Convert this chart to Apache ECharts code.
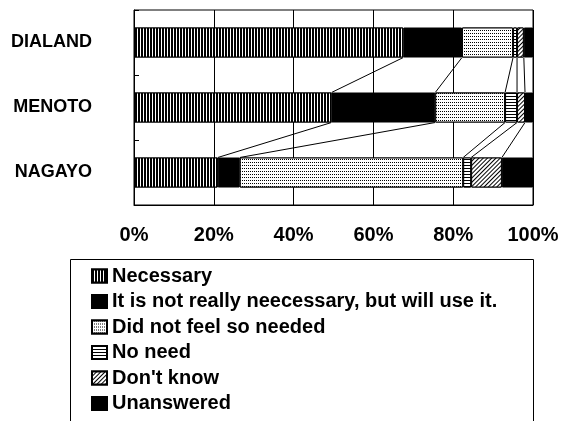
<!DOCTYPE html>
<html><head><meta charset="utf-8">
<script src="https://cdn.jsdelivr.net/npm/echarts@6/dist/echarts.min.js"></script>
<style>html,body{margin:0;padding:0;background:#fff}#c{width:564px;height:421px}</style>
</head><body><div id="c"></div>
<script>
const categories = ['DIALAND', 'MENOTO', 'NAGAYO'];
const seriesNames = ['Necessary', 'It is not really neecessary, but will use it.', 'Did not feel so needed', 'No need', "Don't know", 'Unanswered'];
const necessary  = [67.5, 49.5, 21];
const notReally  = [14.7, 26, 5.5];
const notNeeded  = [12.8, 17.5, 56];
const noNeed     = [1, 3, 2];
const dontKnow   = [1.7, 2, 7.7];
const unanswered = [2.3, 2, 7.8];
const xTicks = [0, 20, 40, 60, 80, 100];

const values = [necessary, notReally, notNeeded, noNeed, dontKnow, unanswered];
const FONT = "'Liberation Sans', Arial, sans-serif";

const decals = [
  {symbol: 'rect', symbolSize: 1, dashArrayX: [2, 1], dashArrayY: [10, 0], color: '#000', backgroundColor: '#fff'},
  null,
  {symbol: 'rect', symbolSize: 1, dashArrayX: [1, 1], dashArrayY: [1, 2], color: '#000', backgroundColor: '#fff'},
  {symbol: 'rect', symbolSize: 1, dashArrayX: [10, 0], dashArrayY: [1, 2], color: '#000', backgroundColor: '#fff'},
  {symbol: 'rect', symbolSize: 1, dashArrayX: [10, 0], dashArrayY: [1, 2], rotation: -Math.PI / 4, color: '#000', backgroundColor: '#fff'},
  null
];

function cumulative(i) {
  const out = [];
  let s = 0;
  for (let k = 0; k < values.length - 1; k++) { s += values[k][i]; out.push(s); }
  return out;
}

const barSeries = seriesNames.map((name, k) => ({
  name: name,
  type: 'bar',
  stack: 'total',
  barWidth: 30,
  data: values[k],
  itemStyle: Object.assign(
    {color: decals[k] ? '#fff' : '#000', borderColor: '#000', borderWidth: 1},
    decals[k] ? {decal: decals[k]} : {}
  ),
  emphasis: {disabled: true}
}));

const connectorSeries = {
  type: 'custom',
  name: 'connectors',
  z: 5,
  silent: true,
  data: [[0, 0], [0, 1]],
  encode: {x: 0, y: 1},
  renderItem: function (params, api) {
    const idx = api.value(1);
    const a = cumulative(idx), b = cumulative(idx + 1);
    const children = [];
    for (let k = 0; k < a.length; k++) {
      const p1 = api.coord([a[k], idx]);
      const p2 = api.coord([b[k], idx + 1]);
      children.push({
        type: 'line',
        shape: {x1: p1[0], y1: p1[1] + 15, x2: p2[0], y2: p2[1] - 15},
        style: {stroke: '#000', lineWidth: 1}
      });
    }
    return {type: 'group', children: children};
  }
};

const chart = echarts.init(document.getElementById('c'));
chart.setOption({
  animation: false,
  backgroundColor: '#fff',
  grid: {left: 134, right: 31, top: 10, bottom: 216, show: true, borderColor: '#000', borderWidth: 1, backgroundColor: 'transparent'},
  xAxis: {
    type: 'value', min: xTicks[0], max: xTicks[xTicks.length - 1], interval: xTicks[1] - xTicks[0],
    axisLine: {show: true, lineStyle: {color: '#000'}},
    axisTick: {show: false},
    splitLine: {show: true, lineStyle: {color: '#000', width: 1}},
    axisLabel: {formatter: '{value}%', color: '#000', fontFamily: FONT, fontWeight: 'bold', fontSize: 20, margin: 20}
  },
  yAxis: {
    type: 'category', data: categories, inverse: true,
    axisLine: {show: true, lineStyle: {color: '#000'}},
    axisTick: {show: true, inside: true, length: 5, lineStyle: {color: '#000'}},
    axisLabel: {color: '#000', fontFamily: FONT, fontWeight: 'bold', fontSize: 18, margin: 42}
  },
  legend: {
    data: seriesNames,
    orient: 'vertical',
    left: 91, top: 266,
    icon: 'rect',
    itemWidth: 15, itemHeight: 13,
    itemGap: 5.5,
    padding: 0,
    selectedMode: false,
    textStyle: {color: '#000', fontFamily: FONT, fontWeight: 'bold', fontSize: 20, lineHeight: 20}
  },
  graphic: [
    {type: 'rect', shape: {x: 70.5, y: 259.5, width: 463, height: 200}, style: {stroke: '#000', lineWidth: 1, fill: null}, z: -1}
  ],
  series: barSeries.concat([connectorSeries])
});
</script>
</body></html>
